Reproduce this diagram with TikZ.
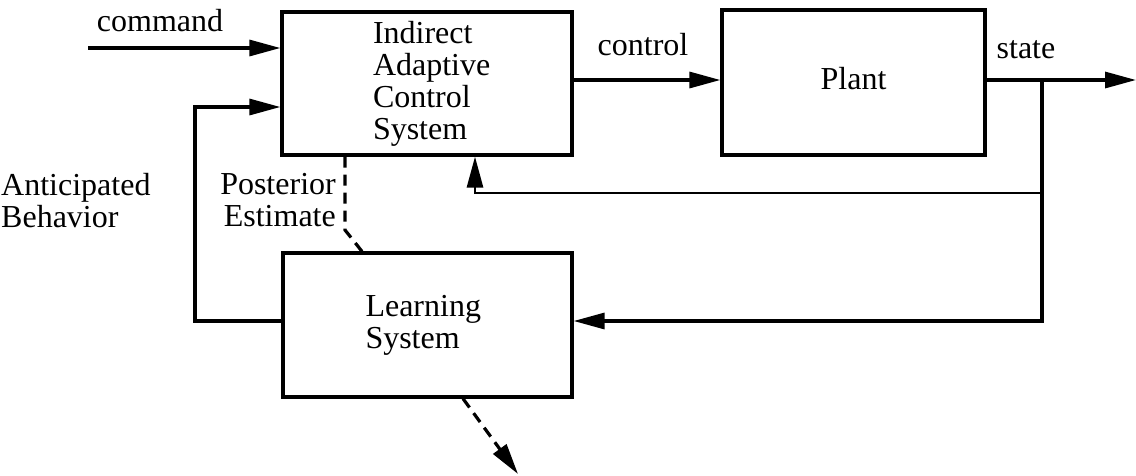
\documentclass[tikz,border=0pt]{standalone}
\usepackage{fontspec}
\setmainfont{Liberation Serif}
\usetikzlibrary{arrows.meta}
\tikzset{
  blk/.style={draw, line width=3.2pt, inner sep=0pt, align=left},
  tip/.style={-{Triangle[length=31pt,width=16pt]}},
  arr/.style={line width=3.2pt, tip},
  thin/.style={line width=2.8pt},
  dsh/.style={line width=3.2pt, dash pattern=on 11pt off 7pt},
  lbl/.style={inner sep=0pt, align=left},
}
\begin{document}
\begin{tikzpicture}[x=1pt,y=-1pt]
\useasboundingbox (0,0) rectangle (1136,475);
\fontsize{32}{32}\selectfont
\node[blk, minimum width=290pt, minimum height=143pt] (acs) at (427,83.5) {\hspace*{22pt}\raisebox{-3pt}{\parbox{130pt}{\raggedright Indirect\\Adaptive\\Control\\System}}};
\node[blk, minimum width=263pt, minimum height=145pt] (plant) at (853.5,82.5) {\raisebox{8pt}{Plant}};
\node[blk, minimum width=289pt, minimum height=144pt] (learn) at (427.5,325) {\hspace*{6pt}\parbox{130pt}{\raggedright Learning\\System}};
% labels
\node[lbl] (cmdlbl) at (160,21) {command};
\node[lbl] (ctrllbl) at (643,45) {control};
\node[lbl] (statelbl) at (1026,50) {state};
\node[lbl, anchor=west] (antlbl) at (1,201) {Anticipated\\Behavior};
\node[lbl, anchor=east, align=right] (postlbl) at (336,200) {Posterior\\Estimate};
% coordinates
\coordinate (cmdstart) at (88,48);
\coordinate (junc) at (1042,80);
\coordinate (stateend) at (1136,80);
\coordinate (fbtop) at (1042,193);
\coordinate (fbcorner) at (475,193);
\coordinate (abl) at (195,321);
\coordinate (abt) at (195,107);
\coordinate (pe1) at (345,230);
\coordinate (outend) at (518,474);
% connectors
\draw[arr] (cmdstart) -- (acs.west |- cmdstart);
\draw[arr] (learn.west |- abl) -- (abl) -- (abt) -- (acs.west |- abt);
\draw[arr] (acs.east |- junc) -- (plant.west |- junc);
\draw[arr] (plant.east |- junc) -- (stateend);
\draw[arr] (junc) |- (learn.east |- abl);
\draw[thin, tip] (fbtop) -- (fbcorner) -- (acs.south -| fbcorner);
\draw[dsh] (acs.south -| pe1) -- (pe1) -- (learn.north -| 362,0);
\draw[dsh, tip] (learn.south -| 463,0) -- (outend);
\end{tikzpicture}
\end{document}
